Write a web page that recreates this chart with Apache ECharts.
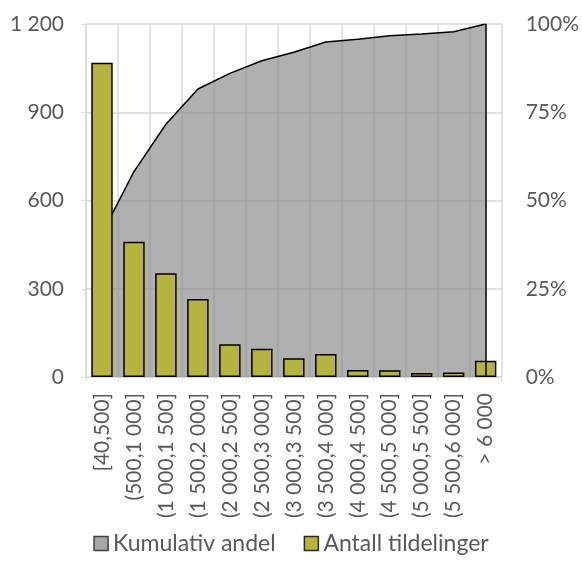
<!DOCTYPE html>
<html>
<head>
<meta charset="utf-8">
<script src="https://cdn.jsdelivr.net/npm/echarts@6/dist/echarts.min.js"></script>
<style>
html,body{margin:0;padding:0;background:#fff;}
#chart{width:582px;height:572px;}
</style>
</head>
<body>
<div id="chart"></div>
<script>
const categories = ['[40,500]','(500,1 000]','(1 000,1 500]','(1 500,2 000]','(2 000,2 500]','(2 500,3 000]','(3 000,3 500]','(3 500,4 000]','(4 000,4 500]','(4 500,5 000]','(5 000,5 500]','(5 500,6 000]','> 6 000'];
const antallTildelinger = [1068, 460, 353, 265, 111, 96, 64, 78, 24, 23, 14, 15, 55];
const kumulativAndel = [0.406, 0.582, 0.716, 0.816, 0.860, 0.896, 0.920, 0.949, 0.957, 0.967, 0.972, 0.978, 1.0];
const leftTicks = [0, 300, 600, 900, 1200];
const rightTicks = [0, 0.25, 0.5, 0.75, 1];

const FONT = 'Lato';
const TXT = '#595959';
const GRID = '#d9d9d9';

const chart = echarts.init(document.getElementById('chart'), null, {renderer: 'canvas'});
chart.setOption({
  animation: false,
  textStyle: {fontFamily: FONT},
  grid: {left: 86, right: 78.5, top: 24, bottom: 195, containLabel: false},
  legend: {
    bottom: 12,
    left: 'center',
    itemWidth: 14,
    itemHeight: 14,
    itemGap: 28,
    textStyle: {fontFamily: FONT, fontSize: 23, color: TXT},
    data: [
      {name: 'Kumulativ andel', icon: 'rect', itemStyle: {color: '#a6a6a6', borderColor: '#404040', borderWidth: 1.5}},
      {name: 'Antall tildelinger', icon: 'rect', itemStyle: {color: '#b7b340', borderColor: '#2b2b10', borderWidth: 1.5}}
    ]
  },
  xAxis: {
    type: 'category',
    data: categories,
    boundaryGap: true,
    axisLine: {show: true, lineStyle: {color: GRID, width: 1.5}},
    axisTick: {show: true, length: 4, lineStyle: {color: GRID}},
    splitLine: {show: true, lineStyle: {color: GRID, width: 1.5}},
    axisLabel: {rotate: 90, margin: 16, fontFamily: FONT, fontSize: 21, color: TXT, interval: 0}
  },
  yAxis: [
    {
      type: 'value', min: leftTicks[0], max: leftTicks[leftTicks.length-1], interval: 300,
      axisLine: {show: true, lineStyle: {color: GRID, width: 1.5}},
      axisTick: {show: true, length: 4, lineStyle: {color: GRID}},
      splitLine: {show: true, lineStyle: {color: GRID, width: 1.5}},
      axisLabel: {margin: 22, fontFamily: FONT, fontSize: 21, color: TXT,
        formatter: v => String(v).replace(/\B(?=(\d{3})+(?!\d))/g, ' ')}
    },
    {
      type: 'value', min: rightTicks[0], max: rightTicks[rightTicks.length-1], interval: 0.25,
      axisLine: {show: false},
      axisTick: {show: false},
      splitLine: {show: false},
      axisLabel: {margin: 24, fontFamily: FONT, fontSize: 21, color: TXT,
        formatter: v => Math.round(v * 100) + '%'}
    }
  ],
  series: [
    {
      name: 'Kumulativ andel',
      type: 'line',
      yAxisIndex: 1,
      data: kumulativAndel,
      symbol: 'none',
      z: 1,
      lineStyle: {color: '#000', width: 1.5},
      itemStyle: {color: '#a6a6a6'},
      areaStyle: {color: 'rgba(128,128,128,0.62)', opacity: 1},
      markLine: {
        silent: true,
        symbol: ['none', 'none'],
        label: {show: false},
        lineStyle: {color: '#000', width: 1.5, type: 'solid'},
        data: [[{coord: [categories[categories.length-1], rightTicks[0]]}, {coord: [categories[categories.length-1], rightTicks[rightTicks.length-1]]}]]
      }
    },
    {
      name: 'Antall tildelinger',
      type: 'bar',
      yAxisIndex: 0,
      data: antallTildelinger,
      barCategoryGap: '33%',
      z: 3,
      itemStyle: {color: '#b7b340', borderColor: '#000', borderWidth: 1.5}
    }
  ]
});
</script>
</body>
</html>
